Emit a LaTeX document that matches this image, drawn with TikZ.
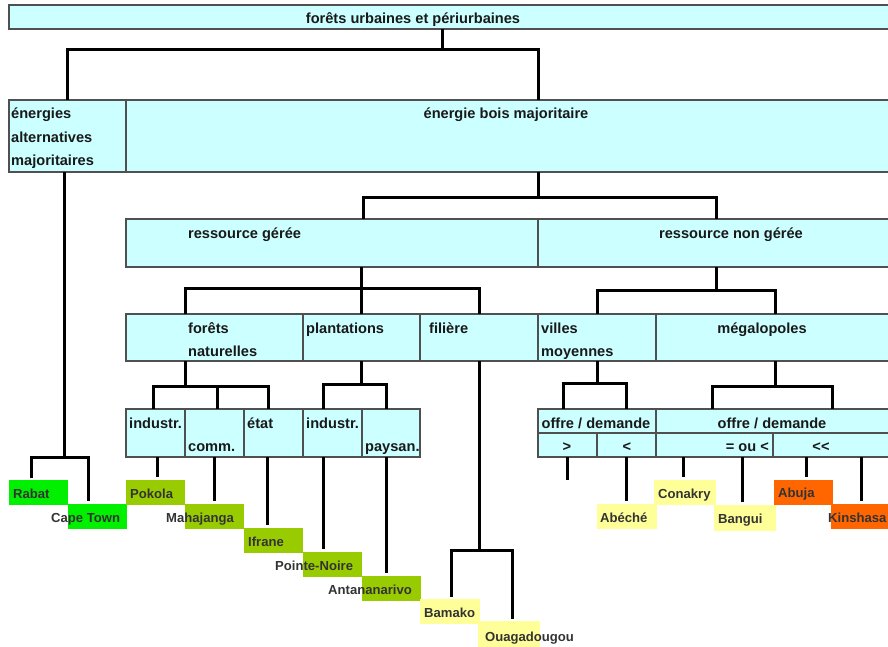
\documentclass[tikz,border=0pt]{standalone}
\usepackage{fontspec}
\setmainfont{Liberation Sans}
\usetikzlibrary{positioning,calc}
\definecolor{cellcyan}{HTML}{CCFFFF}
\definecolor{cellline}{HTML}{505050}
\definecolor{cgreen}{HTML}{00F000}
\definecolor{colive}{HTML}{99CC00}
\definecolor{cyellow}{HTML}{FFFF99}
\definecolor{corange}{HTML}{FF6600}
\definecolor{ctext}{HTML}{333333}
\newcommand\hdfont{\fontsize{14.6}{23.5}\selectfont\bfseries}
\newcommand\ctfont{\fontsize{13.1}{15}\selectfont\bfseries}
\tikzset{
  cell/.style ={rectangle, draw=cellline, line width=1.2pt, fill=cellcyan,
                anchor=north west, inner sep=0pt, outer sep=0pt},
  city/.style ={rectangle, anchor=north west, inner sep=0pt, outer sep=0pt,
                minimum width=59pt, minimum height=24.5pt},
  hd/.style   ={font=\hdfont, text=black!90, anchor=base west, inner sep=0pt, align=left},
  ct/.style   ={font=\ctfont, text=ctext, anchor=base west, inner sep=0pt},
  link/.style ={line width=3pt, draw=black},
  linkc/.style={link, shorten >=3pt}
}

\begin{document}
\begin{tikzpicture}[x=1pt, y=-1pt]
  \useasboundingbox (0,0) rectangle (888,647);
  \clip (0,0) rectangle (888,647);

  % cells
  \node[cell, minimum width=886, minimum height=24] (top) at (9,5) {};
  \node[cell, minimum width=117, minimum height=72] (alt) at (9,100) {};
  \node[cell, minimum width=769, minimum height=72] (bois) at (126,100) {};
  \node[cell, minimum width=412, minimum height=48] (gere) at (126,219) {};
  \node[cell, minimum width=357, minimum height=48] (nongere) at (538,219) {};
  \node[cell, minimum width=177, minimum height=47] (fnat) at (126,314) {};
  \node[cell, minimum width=117, minimum height=47] (plant) at (303,314) {};
  \node[cell, minimum width=118, minimum height=47] (fil) at (420,314) {};
  \node[cell, minimum width=118, minimum height=47] (villes) at (538,314) {};
  \node[cell, minimum width=239, minimum height=47] (mega) at (656,314) {};
  \node[cell, minimum width=59, minimum height=48] (ind1) at (126,409) {};
  \node[cell, minimum width=59, minimum height=48] (comm) at (185,409) {};
  \node[cell, minimum width=59, minimum height=48] (etat) at (244,409) {};
  \node[cell, minimum width=59, minimum height=48] (ind2) at (303,409) {};
  \node[cell, minimum width=58, minimum height=48] (pays) at (362,409) {};
  \node[cell, minimum width=118, minimum height=24] (odv) at (538,409) {};
  \node[cell, minimum width=239, minimum height=24] (odm) at (656,409) {};
  \node[cell, minimum width=59, minimum height=24] (gt) at (538,433) {};
  \node[cell, minimum width=59, minimum height=24] (lt) at (597,433) {};
  \node[cell, minimum width=117, minimum height=24] (eqlt) at (656,433) {};
  \node[cell, minimum width=122, minimum height=24] (llt) at (773,433) {};

  % cell texts (multi-line ones sit on their last baseline)
  \node[hd, anchor=base] at (413,24) {forêts urbaines et périurbaines};
  \node[hd] at (11,166) {énergies\\alternatives\\majoritaires};
  \node[hd, anchor=base] at (506,119) {énergie bois majoritaire};
  \node[hd] at (188,238) {ressource gérée};
  \node[hd, anchor=base] at (731,238) {ressource non gérée};
  \node[hd] at (188,356.5) {forêts\\naturelles};
  \node[hd] at (306,333) {plantations};
  \node[hd] at (429,333) {filière};
  \node[hd] at (541,356.5) {villes\\moyennes};
  \node[hd, anchor=base] at (762,333) {mégalopoles};
  \node[hd] at (129,428) {industr.};
  \node[hd] at (188,451) {comm.};
  \node[hd] at (247,428) {état};
  \node[hd] at (306,428) {industr.};
  \node[hd] at (365,451) {paysan.};
  \node[hd, anchor=base] at (596,428) {offre / demande};
  \node[hd, anchor=base] at (772,428) {offre / demande};
  \node[hd, anchor=base] at (567,451) {>};
  \node[hd, anchor=base] at (627,451) {<};
  \node[hd, anchor=base east] at (769,451) {= ou <};
  \node[hd, anchor=base] at (821,451) {<{}<};

  % cities
  \node[city, fill=cgreen] (rabat) at (9,480) {};
  \node[city, fill=cgreen] (cape) at (68,504) {};
  \node[city, fill=colive] (pokola) at (126,480) {};
  \node[city, fill=colive] (mahaj) at (185,504) {};
  \node[city, fill=colive] (ifrane) at (244,528) {};
  \node[city, fill=colive] (pnoire) at (303,552) {};
  \node[city, fill=colive, minimum width=59] (antan) at (362,576) {};
  \node[city, fill=cyellow, minimum width=60] (bamako) at (420,599) {};
  \node[city, fill=cyellow, minimum width=62, minimum height=26] (ouaga) at (478,621) {};
  \node[city, fill=cyellow, minimum width=60] (abeche) at (597,504) {};
  \node[city, fill=cyellow, minimum width=62] (conakry) at (654,480) {};
  \node[city, fill=cyellow, minimum width=62, minimum height=26] (bangui) at (714,505) {};
  \node[city, fill=corange] (abuja) at (774,480) {};
  \node[city, fill=corange, minimum width=64] (kinsh) at (831,504) {};

  \node[ct] at (13,498) {Rabat};
  \node[ct] at (51,522) {Cape Town};
  \node[ct] at (130,498) {Pokola};
  \node[ct] at (166,522) {Mahajanga};
  \node[ct] at (248,546) {Ifrane};
  \node[ct] at (275,570) {Pointe-Noire};
  \node[ct] at (328,594) {Antananarivo};
  \node[ct] at (424,617) {Bamako};
  \node[ct] at (485,641) {Ouagadougou};
  \node[ct] at (600,522) {Abéché};
  \node[ct] at (658,498) {Conakry};
  \node[ct] at (718,523) {Bangui};
  \node[ct] at (778,497) {Abuja};
  \node[ct] at (828,522) {Kinshasa};

  % tree links
  \draw[link] (top.south -| 442,0) -- (442,50);
  \draw[link] (alt.north) |- (442,50) -| (bois.north -| 538,0);
  \draw[link] (bois.south -| 538,0) -- (538,197);
  \draw[link] (gere.north -| 363,0) |- (538,197) -| (nongere.north);
  \draw[link] (gere.south -| plant.north) -- (plant.north);
  \draw[link] (fnat.north -| 185,0) |- (fil.north |- 0,288) -- (fil.north);
  \draw[link] (nongere.south) -- (nongere.south |- 0,290);
  \draw[link] (villes.north) |- (mega.north |- 0,290) -- (mega.north);
  \draw[link] (fnat.south -| 185,0) -- (185,386);
  \draw[link] (ind1.north -| 153,0) |- (268,386) -- (etat.north -| 268,0);
  \draw[link] (comm.north -| 217,0) -- (217,386);
  \draw[link] (plant.south) -- (plant.south |- 0,384);
  \draw[link] (ind2.north -| 323,0) |- (386,384) -- (pays.north -| 386,0);
  \draw[link] (villes.south) -- (villes.south |- 0,383);
  \draw[link] (odv.north -| 563,0) |- (626,383) -- (odv.north -| 626,0);
  \draw[link] (mega.south) -- (mega.south |- 0,386);
  \draw[link] (odm.north -| 712,0) |- (832,386) -- (odm.north -| 832,0);
  \draw[link] (fil.south) -- (fil.south |- 0,550);
  \draw[link, shorten <=2pt, shorten >=2pt] (bamako.north -| 451,0) |- (512,550) -- (ouaga.north -| 512,0);
  \draw[link] (alt.south -| 64,0) -- (64,457);
  \draw[link, shorten <=2pt, shorten >=3pt] (rabat.north -| 31,0) |- (88,457) -- (cape.north -| 88,0);

  % city links
  \coordinate (gtend) at (567.5,480);
  \draw[linkc] (ind1.south -| 157,0) -- (pokola.north -| 157,0);
  \draw[linkc] (comm.south) -- (mahaj.north -| comm.south);
  \draw[linkc] (etat.south -| 267,0) -- (ifrane.north -| 267,0);
  \draw[linkc] (ind2.south -| 323,0) -- (pnoire.north -| 323,0);
  \draw[linkc] (pays.south -| 386,0) -- (antan.north -| 386,0);
  \draw[link] (gt.south) -- (gtend);
  \draw[linkc] (lt.south) -- (abeche.north -| lt.south);
  \draw[linkc] (eqlt.south -| 683,0) -- (conakry.north -| 683,0);
  \draw[linkc] (eqlt.south -| 742,0) -- (bangui.north -| 742,0);
  \draw[linkc] (llt.south -| 806,0) -- (abuja.north -| 806,0);
  \draw[linkc] (llt.south -| 861,0) -- (kinsh.north -| 861,0);
\end{tikzpicture}
\end{document}
